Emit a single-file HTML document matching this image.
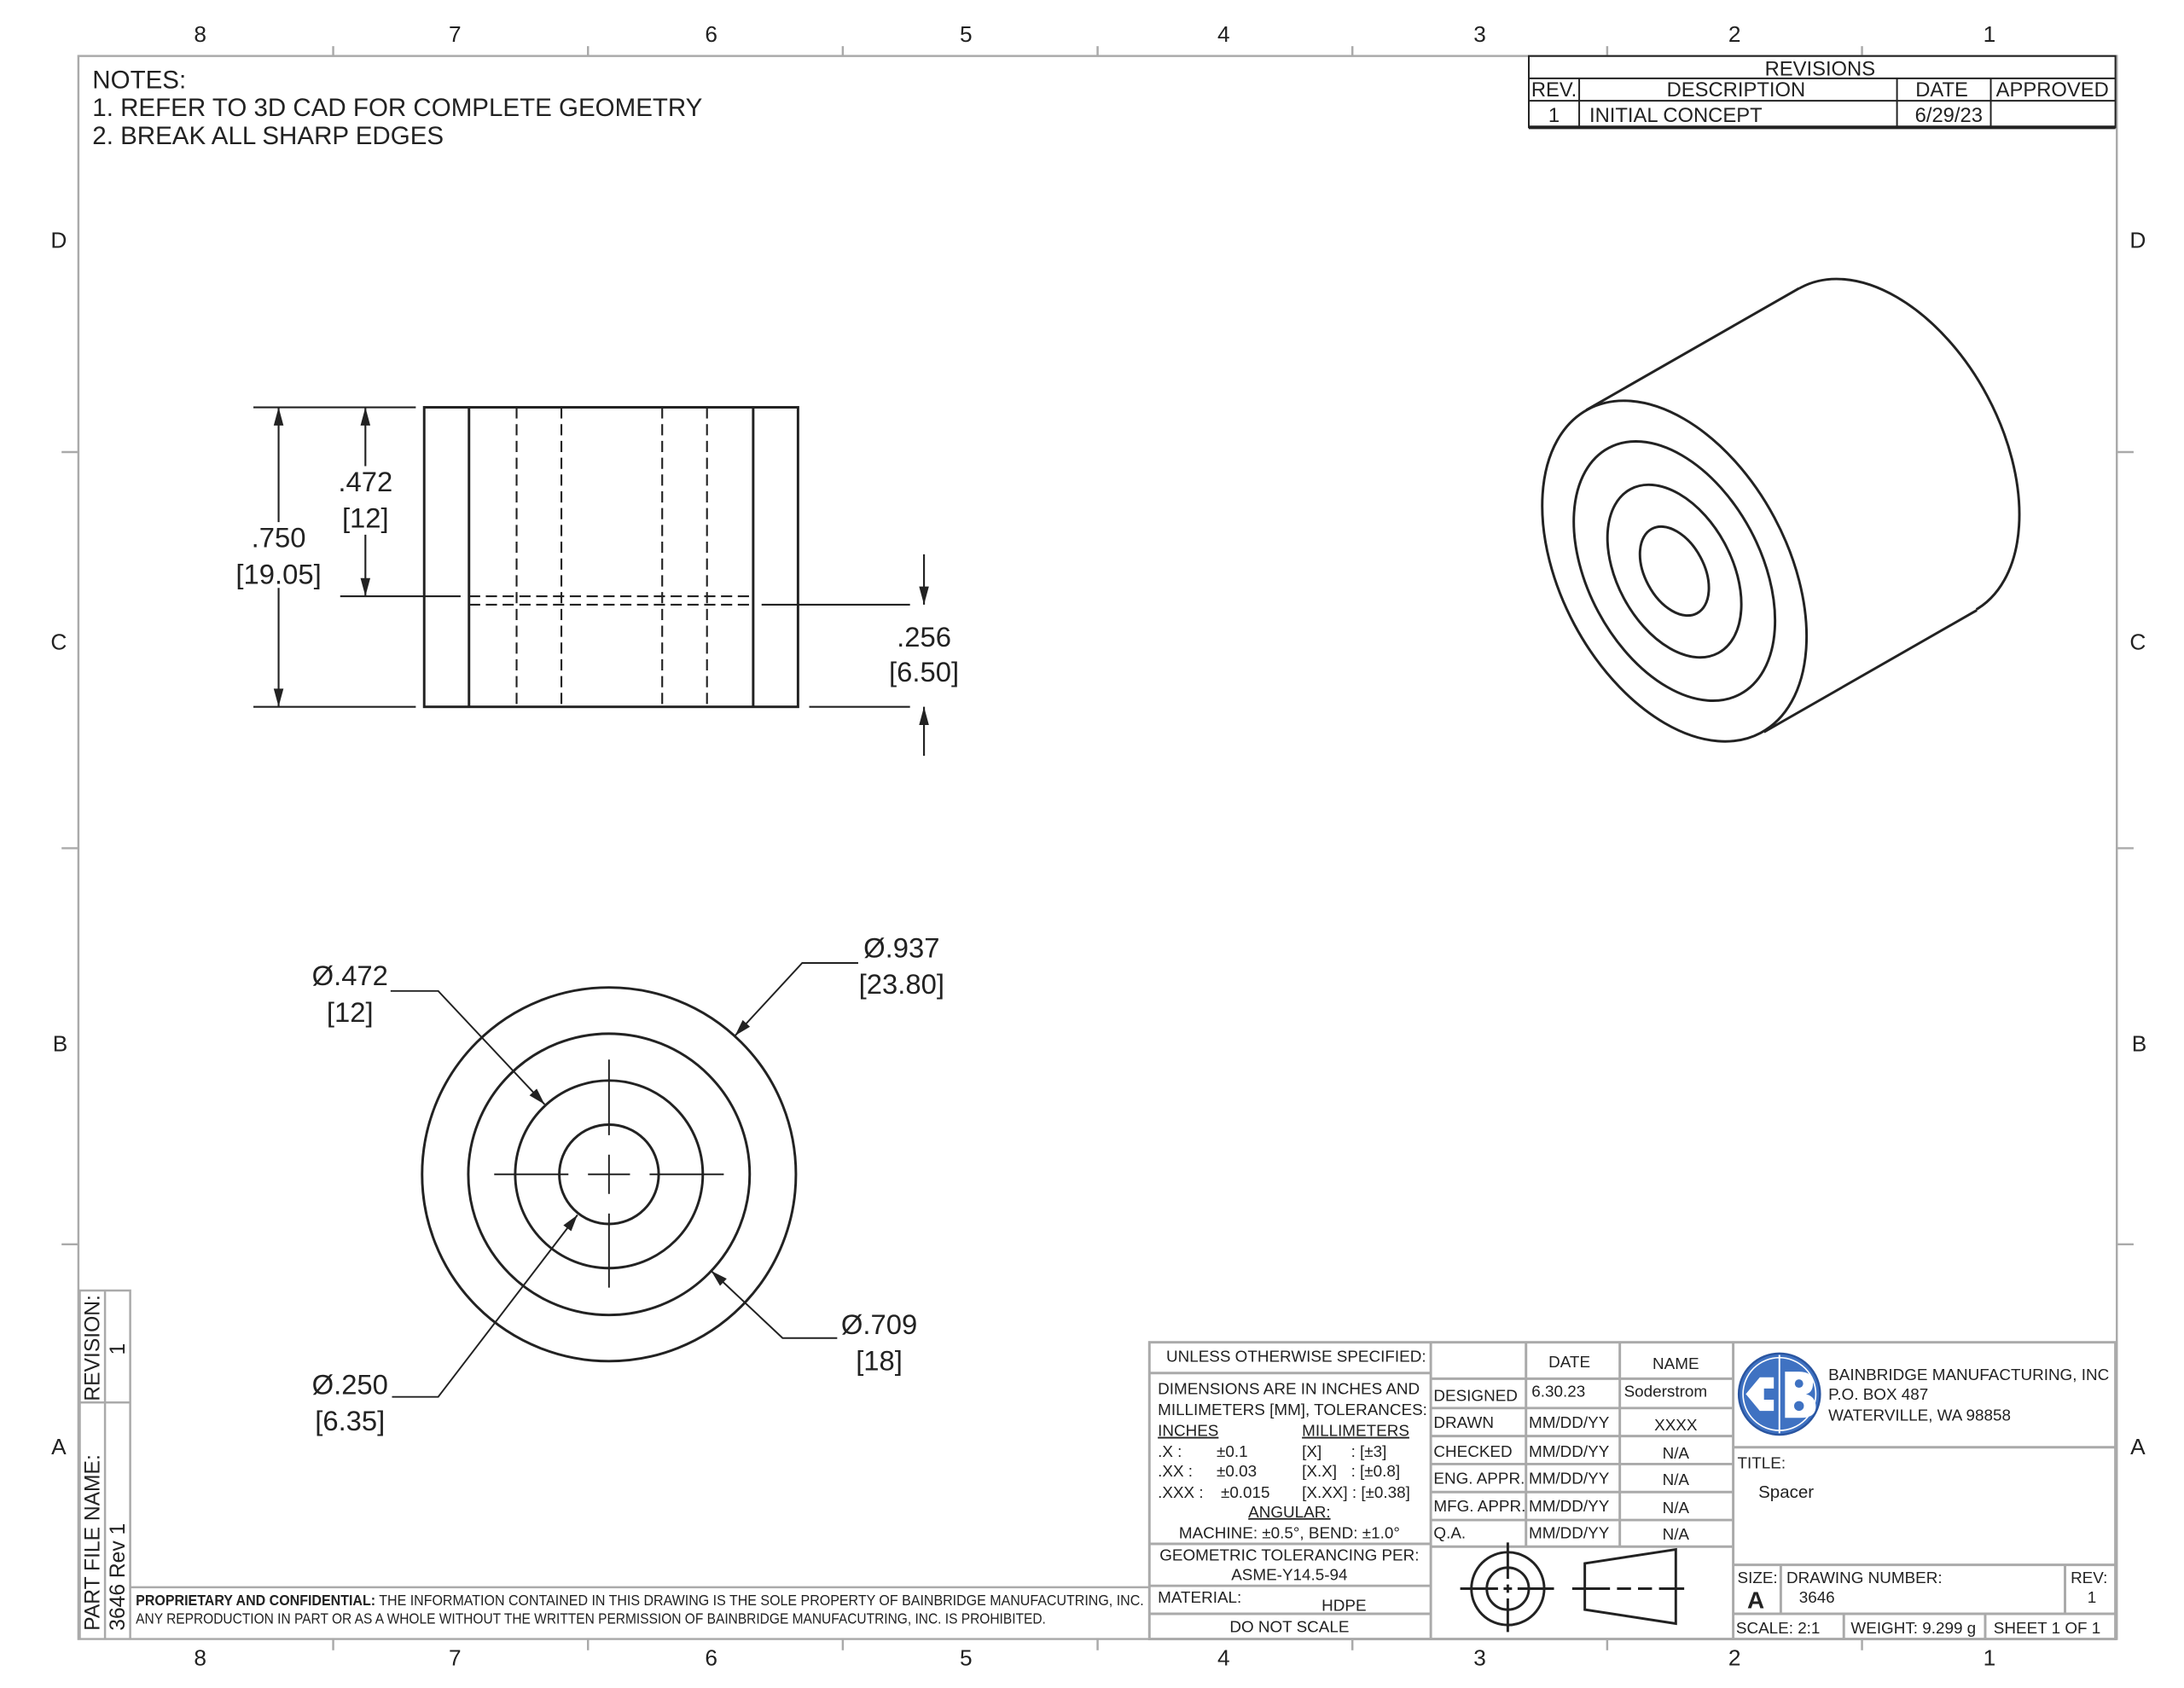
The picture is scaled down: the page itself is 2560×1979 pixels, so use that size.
<!DOCTYPE html>
<html><head><meta charset="utf-8"><style>
html,body{margin:0;padding:0;background:#fff;}
svg{display:block;}
text{font-family:"Liberation Sans",sans-serif;fill:#222;}
</style></head><body>
<svg width="2560" height="1979" viewBox="0 0 1560 1206" preserveAspectRatio="none" xmlns="http://www.w3.org/2000/svg">
<rect width="1560" height="1206" fill="#fff"/>
<!-- frame -->
<g stroke="#aaa" stroke-width="1.5" fill="none">
<rect x="56" y="40" width="1456" height="1131"/>
<path d="M238 33V40M420 33V40M602 33V40M784 33V40M966 33V40M1148 33V40M1330 33V40"/>
<path d="M238 1171V1179M420 1171V1179M602 1171V1179M784 1171V1179M966 1171V1179M1148 1171V1179M1330 1171V1179"/>
<path d="M44 323H56M44 606H56M44 889H56M1512 323H1524M1512 606H1524M1512 889H1524"/>
</g>
<g font-size="16" text-anchor="middle" fill="#444">
<text x="143" y="30">8</text><text x="325" y="30">7</text><text x="508" y="30">6</text><text x="690" y="30">5</text><text x="874" y="30">4</text><text x="1057" y="30">3</text><text x="1239" y="30">2</text><text x="1421" y="30">1</text>
<text x="143" y="1190">8</text><text x="325" y="1190">7</text><text x="508" y="1190">6</text><text x="690" y="1190">5</text><text x="874" y="1190">4</text><text x="1057" y="1190">3</text><text x="1239" y="1190">2</text><text x="1421" y="1190">1</text>
<text x="42" y="177">D</text><text x="42" y="464">C</text><text x="43" y="751">B</text><text x="42" y="1039">A</text>
<text x="1527" y="177">D</text><text x="1527" y="464">C</text><text x="1528" y="751">B</text><text x="1527" y="1039">A</text>
</g>
<!-- notes -->
<g font-size="18">
<text x="66" y="63">NOTES:</text>
<text x="66" y="83">1.  REFER TO 3D CAD FOR COMPLETE GEOMETRY</text>
<text x="66" y="103">2.  BREAK ALL SHARP EDGES</text>
</g>
<!-- revisions -->
<g stroke="#222" stroke-width="1.2" fill="none">
<rect x="1092" y="40" width="419" height="51"/>
<path d="M1092 56H1511M1092 72H1511M1128 56V91M1355 56V91M1422 56V91"/>
<path d="M1092 91H1511" stroke-width="2.5"/>
</g>
<g font-size="14.5" text-anchor="middle">
<text x="1300" y="54">REVISIONS</text>
<text x="1110" y="69">REV.</text><text x="1240" y="69">DESCRIPTION</text><text x="1387" y="69">DATE</text><text x="1466" y="69">APPROVED</text>
<text x="1110" y="87">1</text><text x="1197" y="87">INITIAL CONCEPT</text><text x="1392" y="87">6/29/23</text>
</g>
<!-- front view -->
<g stroke="#222" stroke-width="1.8" fill="none">
<rect x="303" y="291" width="267" height="214"/>
<path d="M335 291V505M538 291V505"/>
</g>
<g stroke="#222" stroke-width="1.3" fill="none" stroke-dasharray="8,4">
<path d="M369 291V505M401 291V505M473 291V505M505 291V505M335 426H538M335 432H538"/>
</g>
<g stroke="#222" stroke-width="1.3" fill="none">
<path d="M181 291H297M181 505H297M243 426H329M544 432H650M578 505H650"/>
<path d="M199 291V373M199 420V505M261 291V333M261 382V426M660 396V432M660 505V540"/>
</g>
<g fill="#222">
<polygon points="199,291 195.5,304 202.5,304"/><polygon points="199,505 195.5,492 202.5,492"/>
<polygon points="261,291 257.5,304 264.5,304"/><polygon points="261,426 257.5,413 264.5,413"/>
<polygon points="660,432 656.5,419 663.5,419"/><polygon points="660,505 656.5,518 663.5,518"/>
</g>
<g font-size="20" text-anchor="middle">
<text x="199" y="391">.750</text><text x="199" y="417">[19.05]</text>
<text x="261" y="351">.472</text><text x="261" y="377">[12]</text>
<text x="660" y="462">.256</text><text x="660" y="487">[6.50]</text>
</g>
<!-- bottom view -->
<g stroke="#222" stroke-width="1.8" fill="none">
<circle cx="435" cy="839" r="133.5"/><circle cx="435" cy="839" r="100.5"/><circle cx="435" cy="839" r="67"/><circle cx="435" cy="839" r="35.5"/>
</g>
<g stroke="#222" stroke-width="1.2" fill="none">
<path d="M353 839H406M420 839H450M464 839H517M435 757V811M435 825V853M435 867V920"/>
<path d="M279 708H313L389 789M613 688H573L525 740M598 956H559L508 908M280 998H313L412.5 868"/>
</g>
<g fill="#222">
<polygon points="389,789 378.2,782.6 383.4,777.8"/>
<polygon points="525,740 530.5,728.8 535.7,733.6"/>
<polygon points="508,908 519.1,913.6 514.3,918.7"/>
<polygon points="412.5,868 408,879.6 402.4,875.4"/>
</g>
<g font-size="20" text-anchor="middle">
<text x="250" y="704">Ø.472</text><text x="250" y="730">[12]</text>
<text x="644" y="684">Ø.937</text><text x="644" y="710">[23.80]</text>
<text x="628" y="953">Ø.709</text><text x="628" y="979">[18]</text>
<text x="250" y="996">Ø.250</text><text x="250" y="1022">[6.35]</text>
</g>
<!-- isometric -->
<g stroke="#222" stroke-width="1.8" transform="translate(5,0)">
<ellipse cx="1343" cy="321" rx="131" ry="81" transform="rotate(61.9 1343 321)" fill="none"/>
<polygon points="1128,293 1280,206 1407,436 1255,523" fill="#fff" stroke="none"/>
<path d="M1128 293L1280 206M1255 523L1407 436" fill="none"/>
<g transform="rotate(61.9 1191 408)" fill="#fff">
<ellipse cx="1191" cy="408" rx="131" ry="81"/>
<ellipse cx="1191" cy="408" rx="99.7" ry="61.7"/>
<ellipse cx="1191" cy="408" rx="66.4" ry="41"/>
<ellipse cx="1191" cy="408" rx="34.2" ry="21.1"/>
</g>
</g>
<!-- left side box -->
<g stroke="#aaa" stroke-width="1.5" fill="none">
<path d="M57 1171V922H93V1171M75 922V1171M57 1002H93M93 1134H821"/>
</g>
<g font-size="15">
<text transform="translate(71,1001) rotate(-90)">REVISION:</text>
<text transform="translate(89,968) rotate(-90)">1</text>
<text transform="translate(71,1165) rotate(-90)">PART FILE NAME:</text>
<text transform="translate(89,1165) rotate(-90)">3646 Rev 1</text>
</g>
<text x="97" y="1147" font-size="10.5" textLength="720" lengthAdjust="spacingAndGlyphs"><tspan font-weight="bold">PROPRIETARY AND CONFIDENTIAL:</tspan> THE INFORMATION CONTAINED IN THIS DRAWING IS THE SOLE PROPERTY OF BAINBRIDGE MANUFACUTRING, INC.</text>
<text x="97" y="1160" font-size="10.5" textLength="650" lengthAdjust="spacingAndGlyphs">ANY REPRODUCTION IN PART OR AS A WHOLE WITHOUT THE WRITTEN PERMISSION OF BAINBRIDGE MANUFACUTRING, INC. IS PROHIBITED.</text>
<!-- title block -->
<g stroke="#aaa" stroke-width="1.8" fill="none">
<rect x="821" y="959" width="690" height="212"/>
<path d="M1022 959V1171M1238 959V1171"/>
<path d="M821 981H1022M821 1103H1022M821 1133H1022M821 1153H1022"/>
<path d="M1090 959V1105M1157 959V1105M1022 985H1238M1022 1006H1238M1022 1026H1238M1022 1046H1238M1022 1066H1238M1022 1086H1238M1022 1105H1238"/>
<path d="M1238 1034H1511M1238 1118H1511M1238 1153H1511M1272 1118V1153M1475 1118V1153M1317 1153V1171M1418 1153V1171"/>
</g>
<g font-size="11.5">
<text x="833" y="973">UNLESS OTHERWISE SPECIFIED:</text>
<text x="827" y="996">DIMENSIONS ARE IN INCHES AND</text>
<text x="827" y="1011">MILLIMETERS [MM], TOLERANCES:</text>
<text x="827" y="1026" text-decoration="underline">INCHES</text><text x="930" y="1026" text-decoration="underline">MILLIMETERS</text>
<text x="827" y="1041">.X :</text><text x="869" y="1041">±0.1</text><text x="930" y="1041">[X]</text><text x="965" y="1041">: [±3]</text>
<text x="827" y="1055">.XX :</text><text x="869" y="1055">±0.03</text><text x="930" y="1055">[X.X]</text><text x="965" y="1055">: [±0.8]</text>
<text x="827" y="1070">.XXX :</text><text x="872" y="1070">±0.015</text><text x="930" y="1070">[X.XX] : [±0.38]</text>
<text x="921" y="1084" text-anchor="middle" text-decoration="underline">ANGULAR:</text>
<text x="921" y="1099" text-anchor="middle">MACHINE: ±0.5°, BEND: ±1.0°</text>
<text x="921" y="1115" text-anchor="middle">GEOMETRIC TOLERANCING PER:</text>
<text x="921" y="1129" text-anchor="middle">ASME-Y14.5-94</text>
<text x="827" y="1145">MATERIAL:</text><text x="944" y="1151">HDPE</text>
<text x="921" y="1166" text-anchor="middle">DO NOT SCALE</text>
<text x="1121" y="977" text-anchor="middle">DATE</text><text x="1197" y="978" text-anchor="middle">NAME</text>
<text x="1024" y="1001">DESIGNED</text><text x="1094" y="998">6.30.23</text><text x="1160" y="998">Soderstrom</text>
<text x="1024" y="1020">DRAWN</text><text x="1092" y="1020">MM/DD/YY</text><text x="1197" y="1022" text-anchor="middle">XXXX</text>
<text x="1024" y="1041">CHECKED</text><text x="1092" y="1041">MM/DD/YY</text><text x="1197" y="1042" text-anchor="middle">N/A</text>
<text x="1024" y="1060">ENG. APPR.</text><text x="1092" y="1060">MM/DD/YY</text><text x="1197" y="1061" text-anchor="middle">N/A</text>
<text x="1024" y="1080">MFG. APPR.</text><text x="1092" y="1080">MM/DD/YY</text><text x="1197" y="1081" text-anchor="middle">N/A</text>
<text x="1024" y="1099">Q.A.</text><text x="1092" y="1099">MM/DD/YY</text><text x="1197" y="1100" text-anchor="middle">N/A</text>
<text x="1306" y="986">BAINBRIDGE MANUFACTURING, INC</text>
<text x="1306" y="1000">P.O. BOX 487</text>
<text x="1306" y="1015">WATERVILLE, WA 98858</text>
<text x="1241" y="1049">TITLE:</text>
<text x="1256" y="1070" font-size="12.5">Spacer</text>
<text x="1241" y="1131">SIZE:</text><text x="1276" y="1131">DRAWING NUMBER:</text><text x="1479" y="1131">REV:</text>
<text x="1248" y="1149" font-size="17" font-weight="bold">A</text><text x="1285" y="1145">3646</text><text x="1491" y="1145">1</text>
<text x="1240" y="1167">SCALE: 2:1</text><text x="1322" y="1167">WEIGHT: 9.299 g</text><text x="1424" y="1167">SHEET 1 OF 1</text>
</g>
<!-- GD&T symbols -->
<g stroke="#222" stroke-width="1.8" fill="none">
<circle cx="1077" cy="1135" r="26"/><circle cx="1077" cy="1135" r="15"/>
<path d="M1043 1135H1070M1074 1135H1080M1084 1135H1110M1077 1102V1128M1077 1132V1138M1077 1142V1166"/>
<polygon points="1132,1117 1197,1107 1197,1160 1132,1150"/>
<path d="M1123 1135H1150M1155 1135H1165M1170 1135H1180M1185 1135H1203"/>
</g>
<!-- logo -->
<g>
<circle cx="1271" cy="996" r="29" fill="#3f72c2" stroke="#2a55a0" stroke-width="1.5"/>
<circle cx="1271" cy="996" r="26" fill="none" stroke="#fff" stroke-width="1"/>
<path d="M1271 968V1024" stroke="#fff" stroke-width="1.2"/>
<path d="M1275 980H1285Q1295 980 1295 988Q1295 995 1290 996Q1297 998 1297 1005Q1297 1013 1286 1013H1275Z" fill="#fff"/>
<circle cx="1285" cy="988.5" r="3" fill="#3f72c2"/><circle cx="1285" cy="1004.5" r="3.5" fill="#3f72c2"/>
<path d="M1267 984H1257L1247 996L1257 1008H1267V1000H1260V992H1267Z" fill="#fff"/>
</g>
</svg>
</body></html>
